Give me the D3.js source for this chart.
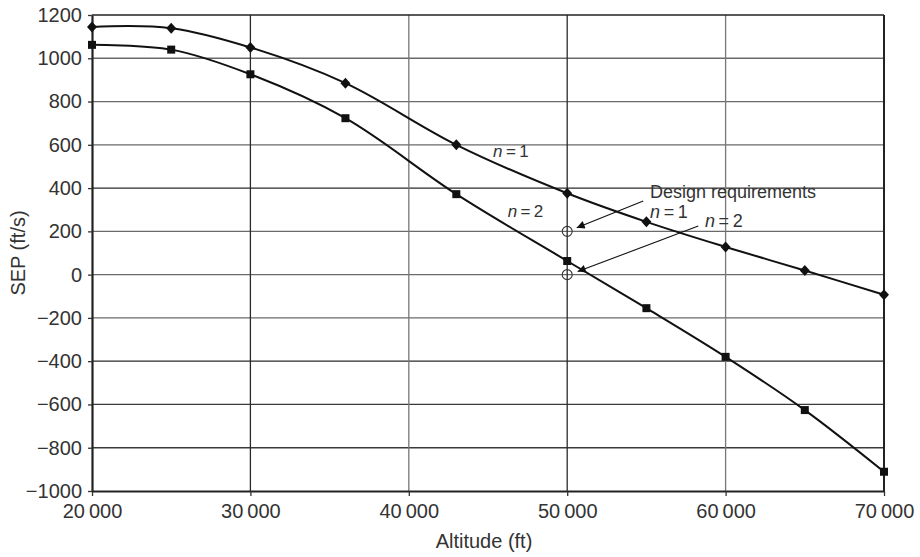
<!DOCTYPE html>
<html>
<head>
<meta charset="utf-8">
<script src="https://cdn.jsdelivr.net/npm/d3@7"></script>
<style>
  body { margin: 0; background: #fff; }
  svg { display: block; }
  text { font-family: "Liberation Sans", Arial, Helvetica, sans-serif; fill: #333; }
</style>
</head>
<body>
<svg id="chart" width="920" height="557"></svg>
<script>
// ---- data ----
const altitudes = [20000, 25000, 30000, 36000, 43000, 50000, 55000, 60000, 65000, 70000];
const sepN1 = [1145, 1139, 1050, 885, 600, 376, 244, 128, 19, -93];
const sepN2 = [1062, 1040, 926, 723, 372, 63, -155, -380, -626, -911];
const xTicks = [20000, 30000, 40000, 50000, 60000, 70000];
const yTicks = [-1000, -800, -600, -400, -200, 0, 200, 400, 600, 800, 1000, 1200];
const reqAltitudes = [50000, 50000];
const reqSEP = [200, 0];
const xLabel = "Altitude (ft)";
const yLabel = "SEP (ft/s)";

// ---- layout ----
const svg = d3.select("#chart");
const m = { left: 92, right: 36, top: 15, bottom: 66 };
const W = 920, H = 557;
const x = d3.scaleLinear().domain([20000, 70000]).range([m.left, W - m.right]);
const y = d3.scaleLinear().domain([-1000, 1200]).range([H - m.bottom, m.top]);

// grid
const grid = svg.append("g");
grid.selectAll("line.h").data(yTicks.slice(1, -1)).join("line")
  .attr("x1", x(20000)).attr("x2", x(70000))
  .attr("y1", d => y(d)).attr("y2", d => y(d))
  .attr("stroke", (d, i) => [ "#3a3a3a", "#3a3a3a", "#2a2a2a", "#6a6a6a", "#6a6a6a", "#6a6a6a", "#2a2a2a", "#6a6a6a", "#6a6a6a", "#6a6a6a" ][i])
  .attr("stroke-width", 1.3);
grid.selectAll("line.v").data(xTicks.slice(1, -1)).join("line")
  .attr("y1", y(-1000)).attr("y2", y(1200))
  .attr("x1", d => x(d)).attr("x2", d => x(d))
  .attr("stroke", (d, i) => ["#2a2a2a", "#777", "#2a2a2a", "#777"][i])
  .attr("stroke-width", 1.3);

// frame top/right
svg.append("line").attr("x1", x(20000)).attr("x2", x(70000)).attr("y1", y(1200)).attr("y2", y(1200))
  .attr("stroke", "#222").attr("stroke-width", 1.6);
svg.append("line").attr("x1", x(70000)).attr("x2", x(70000)).attr("y1", y(1200)).attr("y2", y(-1000))
  .attr("stroke", "#222").attr("stroke-width", 2);

// axes
const fmtX = d => d3.format(",")(d).replace(",", "\u2009");
const fmtY = d => d < 0 ? "\u2212" + Math.abs(d) : String(d);
const xAxis = svg.append("g").attr("transform", `translate(0,${y(-1000)})`)
  .call(d3.axisBottom(x).tickValues(xTicks).tickFormat(fmtX).tickSize(5).tickPadding(8).tickSizeOuter(0));
const yAxis = svg.append("g").attr("transform", `translate(${x(20000)},0)`)
  .call(d3.axisLeft(y).tickValues(yTicks).tickFormat(fmtY).tickSize(4).tickPadding(6).tickSizeOuter(0));
[xAxis, yAxis].forEach(a => {
  a.select(".domain").attr("stroke", "#222").attr("stroke-width", 2.2);
  a.selectAll(".tick line").attr("stroke", "#333").attr("stroke-width", 1.3);
  a.selectAll(".tick text").attr("font-size", 20).attr("fill", "#333")
    .attr("font-family", "'Liberation Sans', Arial, sans-serif");
});

// axis titles
svg.append("text").attr("x", (x(20000) + x(70000)) / 2 - 4).attr("y", 548)
  .attr("text-anchor", "middle").attr("font-size", 20).text(xLabel);
svg.append("text").attr("transform", `translate(25,${y(100)}) rotate(-90)`)
  .attr("text-anchor", "middle").attr("font-size", 20).text(yLabel);

// curves
const line = d3.line().x(d => x(d[0])).y(d => y(d[1])).curve(d3.curveCatmullRom.alpha(0.5));
const s1 = altitudes.map((a, i) => [a, sepN1[i]]);
const s2 = altitudes.map((a, i) => [a, sepN2[i]]);
[s1, s2].forEach(s => {
  svg.append("path").datum(s).attr("d", line).attr("fill", "none")
    .attr("stroke", "#111").attr("stroke-width", 2);
});
svg.selectAll("path.dia").data(s1).join("path")
  .attr("transform", d => `translate(${x(d[0])},${y(d[1])})`)
  .attr("d", "M0,-5.5L5,0L0,5.5L-5,0Z").attr("fill", "#111");
svg.selectAll("rect.sq").data(s2).join("rect")
  .attr("x", d => x(d[0]) - 4).attr("y", d => y(d[1]) - 4)
  .attr("width", 8).attr("height", 8).attr("fill", "#111");

// design requirement points
svg.selectAll("circle.req").data(reqAltitudes.map((a, i) => [a, reqSEP[i]])).join("circle")
  .attr("cx", d => x(d[0])).attr("cy", d => y(d[1])).attr("r", 5)
  .attr("fill", "none").attr("stroke", "#333").attr("stroke-width", 1.1);

// arrow marker
svg.append("defs").append("marker").attr("id", "ah")
  .attr("viewBox", "0 0 10 10").attr("refX", 10).attr("refY", 5)
  .attr("markerWidth", 12).attr("markerHeight", 8).attr("markerUnits", "userSpaceOnUse")
  .attr("orient", "auto")
  .append("path").attr("d", "M0,0L10,5L0,10Z").attr("fill", "#111");

const arrows = [
  [[54800, 340], [50600, 217]],
  [[58275, 225], [50660, 14]]
];
arrows.forEach(a => {
  svg.append("line")
    .attr("x1", x(a[0][0])).attr("y1", y(a[0][1]))
    .attr("x2", x(a[1][0])).attr("y2", y(a[1][1]))
    .attr("stroke", "#111").attr("stroke-width", 1.1).attr("marker-end", "url(#ah)");
});

// labels
function nLabel(xv, yv, num, size) {
  const t = svg.append("text").attr("x", x(xv)).attr("y", y(yv))
    .attr("dominant-baseline", "middle").attr("font-size", size);
  t.append("tspan").attr("font-style", "italic").text("n");
  t.append("tspan").text("\u2009=\u2009" + num);
}
nLabel(45320, 562, 1, 17);
nLabel(46240, 287, 2, 17);
svg.append("text").attr("x", x(55230)).attr("y", y(378)).attr("dominant-baseline", "middle")
  .attr("font-size", 18).text("Design requirements");
svg.append("rect").attr("x", x(55100)).attr("y", y(320)).attr("width", 0).attr("height", 0);
nLabel(55230, 286, 1, 18);
nLabel(58700, 245, 2, 18);
</script>
</body>
</html>
